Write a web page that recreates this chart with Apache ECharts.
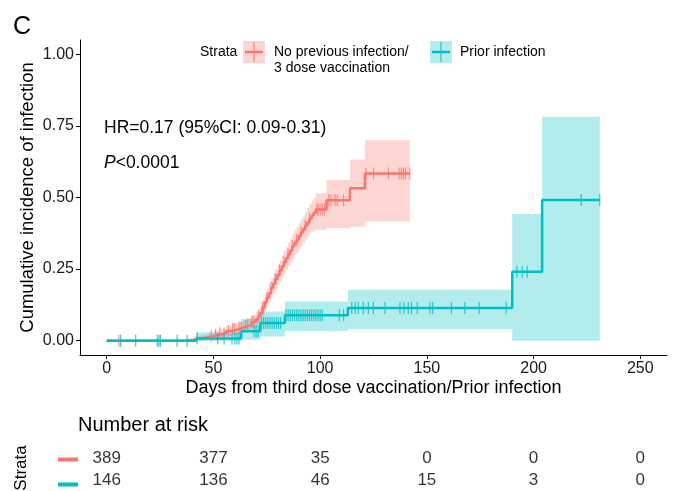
<!DOCTYPE html>
<html>
<head>
<meta charset="utf-8">
<script src="https://cdn.jsdelivr.net/npm/echarts@6/dist/echarts.min.js"></script>
<style>
  html, body { margin: 0; padding: 0; background: #fff; }
  #chart { width: 680px; height: 491px; }
</style>
</head>
<body>
<div id="chart"></div>
<script>
// step curve: No previous infection / 3 dose vaccination
const redDays = [0, 37, 41, 44, 47, 50, 53, 56, 59, 62, 64, 66, 68, 70, 71, 72, 73, 74, 75, 76,
  77, 78, 79, 80, 81, 82, 83, 84, 85, 86, 87, 88, 89, 90, 91, 92, 93, 94, 95, 96, 97, 98, 103, 114, 121];
const redEst = [0, 0.003, 0.008, 0.011, 0.016, 0.021, 0.026, 0.034, 0.040, 0.045, 0.050, 0.056, 0.065, 0.075, 0.085, 0.097, 0.115, 0.134, 0.150, 0.166,
  0.184, 0.200, 0.215, 0.230, 0.245, 0.260, 0.274, 0.288, 0.302, 0.315, 0.330, 0.343, 0.352, 0.366, 0.378, 0.390, 0.402, 0.414, 0.426, 0.437, 0.447, 0.458, 0.490, 0.532, 0.584];
const redLo = [0, 0, 0, 0.001, 0.004, 0.007, 0.010, 0.016, 0.020, 0.024, 0.028, 0.033, 0.041, 0.050, 0.059, 0.070, 0.086, 0.104, 0.119, 0.134,
  0.151, 0.166, 0.180, 0.194, 0.208, 0.222, 0.235, 0.248, 0.261, 0.273, 0.287, 0.299, 0.308, 0.320, 0.331, 0.342, 0.353, 0.364, 0.375, 0.380, 0.384, 0.387, 0.393, 0.398, 0.416];
const redHi = [0, 0.008, 0.016, 0.021, 0.028, 0.035, 0.042, 0.052, 0.060, 0.066, 0.072, 0.079, 0.089, 0.100, 0.112, 0.125, 0.144, 0.164, 0.181, 0.198,
  0.217, 0.234, 0.250, 0.266, 0.282, 0.298, 0.313, 0.328, 0.343, 0.357, 0.373, 0.387, 0.397, 0.412, 0.425, 0.438, 0.451, 0.464, 0.477, 0.489, 0.500, 0.515, 0.561, 0.633, 0.700];
const redEnd = 142;
const redCensor = [5.7, 49, 51, 53, 55, 57, 59, 60, 62, 63, 65, 66, 68, 69, 71, 73, 75, 77, 79, 81, 83, 85, 87, 89, 91, 93, 95,
  98.5, 99, 100, 101, 102, 104, 105, 107, 108, 111, 121.5, 125, 132, 137, 138, 139, 140, 142];

// step curve: Prior infection
const tealDays = [0, 42, 63, 72, 83.5, 113, 190, 204];
const tealEst = [0, 0.008, 0.033, 0.062, 0.089, 0.114, 0.241, 0.491];
const tealLo = [0, 0, 0.003, 0.015, 0.034, 0.041, 0, 0];
const tealHi = [0.004, 0.029, 0.076, 0.102, 0.137, 0.178, 0.442, 0.782];
const tealEnd = 231;
const tealCensor = [6.5, 13.6, 23.7, 24.5, 25.2, 33, 37.7, 42.4, 52, 55, 58.7, 60, 61, 62, 69, 70, 71, 72.5, 73.5, 74.5, 75.5, 76.5,
  77.5, 78.5, 79.5, 80.5, 81.5, 84, 85, 86, 87, 88, 89, 90, 91, 92, 93, 94, 95, 96, 97, 98, 99, 100, 101, 109, 111,
  114.8, 116.4, 117.9, 120.2, 122.6, 124.9, 130.4, 137.4, 139.3, 141.3, 142.8, 145.5, 151.4, 152.7, 161.5, 167.8, 174.5, 187.2,
  192.2, 194.7, 197, 222.3, 231];

// number at risk
const riskDays = [0, 50, 100, 150, 200, 250];
const riskRed = [389, 377, 35, 0, 0, 0];
const riskTeal = [146, 136, 46, 15, 3, 0];

const xTicks = [0, 50, 100, 150, 200, 250];
const yTicks = [0, 0.25, 0.5, 0.75, 1];

const RED = '#F8766D';
const TEAL = '#00BFC4';
const RED_FILL = 'rgba(248,118,109,0.3)';
const TEAL_FILL = 'rgba(0,191,196,0.3)';
const FONT = '"Liberation Sans", Arial, sans-serif';

function stepLine(days, est, end) {
  const pts = days.map((d, i) => [d, est[i]]);
  pts.push([end, est[est.length - 1]]);
  return pts;
}

function valueAt(days, est, t) {
  let v = est[0];
  for (let i = 0; i < days.length; i++) {
    if (days[i] <= t) v = est[i];
  }
  return v;
}

function censorPoints(times, days, est) {
  return times.map(t => [t, valueAt(days, est, t)]);
}

function bandSeries(days, lo, hi, end, fill) {
  return {
    type: 'custom',
    xAxisIndex: 0,
    yAxisIndex: 0,
    silent: true,
    z: 1,
    data: [[0]],
    renderItem: (params, api) => {
      const top = [];
      const bot = [];
      for (let i = 0; i < days.length; i++) {
        const x1 = i + 1 < days.length ? days[i + 1] : end;
        top.push(api.coord([days[i], hi[i]]), api.coord([x1, hi[i]]));
        bot.push(api.coord([days[i], lo[i]]), api.coord([x1, lo[i]]));
      }
      return {
        type: 'polygon',
        shape: { points: top.concat(bot.reverse()) },
        style: { fill: fill }
      };
    }
  };
}

const chart = echarts.init(document.getElementById('chart'));

const option = {
  animation: false,
  textStyle: { fontFamily: FONT },
  grid: [
    { left: 80, right: 13, top: 40, height: 315 },
    { left: 80, right: 13, top: 448, height: 52 }
  ],
  xAxis: [
    {
      type: 'value',
      gridIndex: 0,
      min: -12.5,
      max: 262.5,
      name: 'Days from third dose vaccination/Prior infection',
      nameLocation: 'middle',
      nameGap: 24,
      nameMoveOverlap: false,
      nameTextStyle: { fontSize: 18, color: '#000', fontFamily: FONT },
      axisLine: { onZero: false, lineStyle: { color: '#000', width: 1 } },
      axisTick: { show: true, length: 4, customValues: xTicks, lineStyle: { color: '#000' } },
      axisLabel: { customValues: xTicks, fontSize: 16, color: '#1a1a1a', margin: 6 },
      splitLine: { show: false }
    },
    {
      type: 'value',
      gridIndex: 1,
      min: -12.5,
      max: 262.5,
      show: false
    }
  ],
  yAxis: [
    {
      type: 'value',
      gridIndex: 0,
      min: -0.05,
      max: 1.05,
      name: 'Cumulative incidence of infection',
      nameLocation: 'middle',
      nameGap: 43,
      nameMoveOverlap: false,
      nameTextStyle: { fontSize: 18.5, color: '#000', fontFamily: FONT },
      axisLine: { show: true, onZero: false, lineStyle: { color: '#000', width: 1 } },
      axisTick: { show: true, length: 4, customValues: yTicks, lineStyle: { color: '#000' } },
      axisLabel: {
        customValues: yTicks,
        fontSize: 16,
        color: '#1a1a1a',
        margin: 6,
        formatter: v => v.toFixed(2)
      },
      splitLine: { show: false }
    },
    {
      type: 'category',
      gridIndex: 1,
      data: ['red', 'teal'],
      inverse: true,
      show: false
    }
  ],
  series: [
    bandSeries(redDays, redLo, redHi, redEnd, RED_FILL),
    bandSeries(tealDays, tealLo, tealHi, tealEnd, TEAL_FILL),
    {
      type: 'line',
      step: 'end',
      data: stepLine(redDays, redEst, redEnd),
      showSymbol: false,
      symbol: 'none',
      lineStyle: { color: RED, width: 2.5 },
      z: 3
    },
    {
      type: 'line',
      step: 'end',
      data: stepLine(tealDays, tealEst, tealEnd),
      showSymbol: false,
      symbol: 'none',
      lineStyle: { color: TEAL, width: 2.5 },
      z: 4
    },
    {
      type: 'scatter',
      data: censorPoints(redCensor, redDays, redEst),
      symbol: 'rect',
      symbolSize: [1.2, 12],
      itemStyle: { color: RED },
      z: 5
    },
    {
      type: 'scatter',
      data: censorPoints(tealCensor, tealDays, tealEst),
      symbol: 'rect',
      symbolSize: [1.2, 12],
      itemStyle: { color: TEAL },
      z: 6
    },
    {
      type: 'scatter',
      xAxisIndex: 1,
      yAxisIndex: 1,
      symbolSize: 0,
      data: riskDays.map((d, i) => [d, 'red', riskRed[i]]),
      label: { show: true, position: 'inside', formatter: p => p.value[2], fontSize: 17, color: '#000', fontFamily: FONT }
    },
    {
      type: 'scatter',
      xAxisIndex: 1,
      yAxisIndex: 1,
      symbolSize: 0,
      data: riskDays.map((d, i) => [d, 'teal', riskTeal[i]]),
      label: { show: true, position: 'inside', formatter: p => p.value[2], fontSize: 17, color: '#000', fontFamily: FONT }
    }
  ],
  graphic: [
    { type: 'text', left: 13, top: 15, style: { text: 'C', font: '25px ' + FONT, fill: '#000' } },
    // legend
    { type: 'text', x: 200, y: 52, style: { text: 'Strata', font: '14px ' + FONT, fill: '#000', textVerticalAlign: 'middle' } },
    { type: 'rect', shape: { x: 243, y: 41, width: 22, height: 22 }, style: { fill: RED_FILL } },
    { type: 'line', shape: { x1: 245, y1: 52, x2: 263, y2: 52 }, style: { stroke: RED, lineWidth: 2.5 } },
    { type: 'line', shape: { x1: 254, y1: 42, x2: 254, y2: 62 }, style: { stroke: RED, lineWidth: 1 } },
    { type: 'text', x: 274, y: 52, style: { text: 'No previous infection/', font: '14px ' + FONT, fill: '#000', textVerticalAlign: 'middle' } },
    { type: 'text', x: 274, y: 68, style: { text: '3 dose vaccination', font: '14px ' + FONT, fill: '#000', textVerticalAlign: 'middle' } },
    { type: 'rect', shape: { x: 430, y: 41, width: 22, height: 22 }, style: { fill: TEAL_FILL } },
    { type: 'line', shape: { x1: 432, y1: 52, x2: 450, y2: 52 }, style: { stroke: TEAL, lineWidth: 2.5 } },
    { type: 'line', shape: { x1: 441, y1: 42, x2: 441, y2: 62 }, style: { stroke: TEAL, lineWidth: 1 } },
    { type: 'text', x: 460, y: 52, style: { text: 'Prior infection', font: '14px ' + FONT, fill: '#000', textVerticalAlign: 'middle' } },
    // annotations
    { type: 'text', x: 104, y: 128, style: { text: 'HR=0.17 (95%CI: 0.09-0.31)', font: '17.5px ' + FONT, fill: '#000', textVerticalAlign: 'middle' } },
    {
      type: 'text', x: 104, y: 163,
      style: {
        text: '{i|P}<0.0001', font: '17.5px ' + FONT, fill: '#000', textVerticalAlign: 'middle',
        rich: { i: { fontStyle: 'italic', fontSize: 17.5, fontFamily: FONT } }
      }
    },
    // risk table
    { type: 'text', x: 78, y: 425, style: { text: 'Number at risk', font: '20px ' + FONT, fill: '#000', textVerticalAlign: 'middle' } },
    { type: 'text', x: 21, y: 468, rotation: Math.PI / 2, style: { text: 'Strata', font: '17px ' + FONT, fill: '#000', textAlign: 'center', textVerticalAlign: 'middle' } },
    { type: 'rect', shape: { x: 58, y: 457.5, width: 20, height: 4 }, style: { fill: RED } },
    { type: 'rect', shape: { x: 58, y: 482.5, width: 20, height: 4 }, style: { fill: TEAL } }
  ]
};

chart.setOption(option);
</script>
</body>
</html>
